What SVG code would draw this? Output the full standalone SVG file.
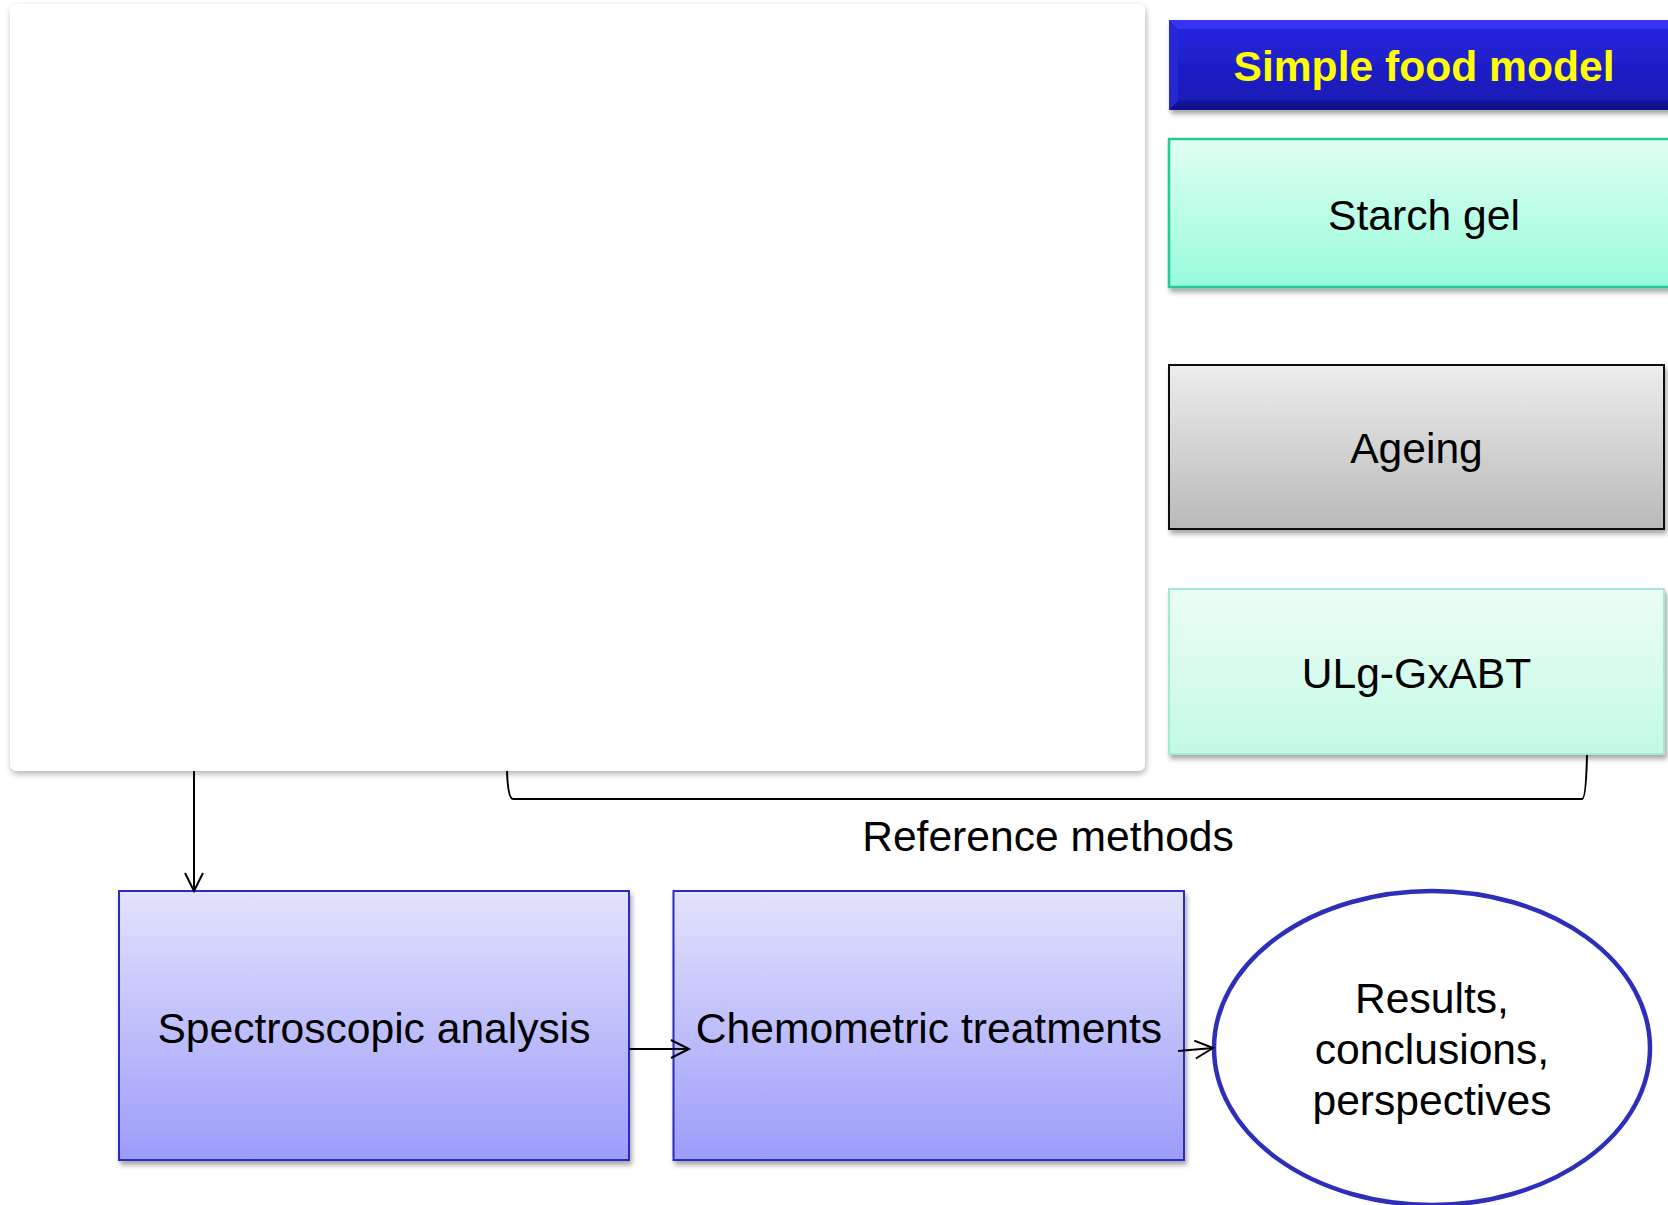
<svg xmlns="http://www.w3.org/2000/svg" width="1668" height="1205" viewBox="0 0 1668 1205">
  <defs>
    <style>
      .lbl { font-family: "Liberation Sans", Arial, sans-serif; font-size: 42.6px; fill: #000; text-anchor: middle; }
      .title { font-family: "Liberation Sans", Arial, sans-serif; font-size: 42.6px; font-weight: bold; fill: #ffff00; text-anchor: middle; }
      .conn { fill: none; stroke: #000; stroke-width: 2; }
      .proc { fill: url(#gProc); stroke: #2b2bc4; stroke-width: 2; filter: url(#shadow); }
    </style>
    <linearGradient id="gHead" x1="0" y1="0" x2="0" y2="1">
      <stop offset="0" stop-color="#2626e2"/>
      <stop offset="1" stop-color="#1818b0"/>
    </linearGradient>
    <linearGradient id="gStarch" x1="0" y1="0" x2="0" y2="1">
      <stop offset="0" stop-color="#e0fff2"/>
      <stop offset="1" stop-color="#98fbdb"/>
    </linearGradient>
    <linearGradient id="gAge" x1="0" y1="0" x2="0" y2="1">
      <stop offset="0" stop-color="#ededed"/>
      <stop offset="1" stop-color="#b9b9b9"/>
    </linearGradient>
    <linearGradient id="gUlg" x1="0" y1="0" x2="0" y2="1">
      <stop offset="0" stop-color="#edfdf6"/>
      <stop offset="1" stop-color="#c2fae4"/>
    </linearGradient>
    <linearGradient id="gProc" x1="0" y1="0" x2="0" y2="1">
      <stop offset="0" stop-color="#e3e3fd"/>
      <stop offset="1" stop-color="#9c9cfa"/>
    </linearGradient>
    <filter id="shadow" x="-5%" y="-5%" width="112%" height="120%">
      <feDropShadow dx="2" dy="4" stdDeviation="2.5" flood-color="#000" flood-opacity="0.35"/>
    </filter>
    <filter id="panelShadow" x="-3%" y="-3%" width="106%" height="108%">
      <feDropShadow dx="1" dy="3" stdDeviation="3" flood-color="#000" flood-opacity="0.3"/>
    </filter>
    <marker id="arrow" markerWidth="24" markerHeight="24" refX="0" refY="0" viewBox="-20 -12 24 24" orient="auto" markerUnits="userSpaceOnUse">
      <path d="M-18,-9 L0,0 L-18,9" fill="none" stroke="#000" stroke-width="2"/>
    </marker>
  </defs>

  <rect width="1668" height="1205" fill="#fff"/>

  <!-- empty content panel -->
  <g id="panel">
    <rect x="10" y="4" width="1135" height="767" rx="7" fill="#fff" filter="url(#panelShadow)"/>
  </g>

  <!-- header banner with bevelled edges -->
  <g id="header">
    <rect x="1169" y="20" width="520" height="90" fill="url(#gHead)" filter="url(#shadow)"/>
    <polygon points="1169,20 1689,20 1680,29 1178,29" fill="#3a3af2" opacity="0.85"/>
    <polygon points="1169,20 1178,29 1178,101 1169,110" fill="#2a2ad8" opacity="0.8"/>
    <polygon points="1169,110 1178,101 1680,101 1689,110" fill="#12128a" opacity="0.8"/>
    <text class="title" x="1424" y="81">Simple food model</text>
  </g>

  <g id="starch-gel">
    <rect x="1169" y="139" width="520" height="148" fill="url(#gStarch)" stroke="#22cc99" stroke-width="2.5" filter="url(#shadow)"/>
    <text class="lbl" x="1424" y="230">Starch gel</text>
  </g>

  <g id="ageing">
    <rect x="1169" y="365" width="495" height="164" fill="url(#gAge)" stroke="#111" stroke-width="2" filter="url(#shadow)"/>
    <text class="lbl" x="1416.5" y="463">Ageing</text>
  </g>

  <g id="ulg-gxabt">
    <rect x="1169" y="589" width="495" height="165" fill="url(#gUlg)" stroke="#a4ead0" stroke-width="2" filter="url(#shadow)"/>
    <text class="lbl" x="1416.5" y="688">ULg-GxABT</text>
  </g>

  <g id="spectroscopic">
    <rect class="proc" x="119" y="891" width="510" height="269"/>
    <text class="lbl" x="374" y="1043">Spectroscopic analysis</text>
  </g>

  <g id="chemometric">
    <rect class="proc" x="673.5" y="891" width="510.5" height="269"/>
    <text class="lbl" x="929" y="1043">Chemometric treatments</text>
  </g>

  <g id="results">
    <ellipse cx="1432" cy="1048" rx="218" ry="157" fill="#fff" stroke="#2e2eb8" stroke-width="4.5"/>
    <text class="lbl" x="1432" y="1013">Results,</text>
    <text class="lbl" x="1432" y="1064">conclusions,</text>
    <text class="lbl" x="1432" y="1115">perspectives</text>
  </g>

  <g id="reference-methods">
    <text class="lbl" x="1048" y="851">Reference methods</text>
  </g>

  <!-- connectors -->
  <g id="connectors">
    <path class="conn" d="M507,771 Q508,799 513,799 L1582,799 Q1586,799 1587,755"/>
    <line class="conn" x1="194" y1="771" x2="194" y2="891" marker-end="url(#arrow)"/>
    <line class="conn" x1="629" y1="1049" x2="689" y2="1049" marker-end="url(#arrow)"/>
    <line class="conn" x1="1178" y1="1051" x2="1213" y2="1048" marker-end="url(#arrow)"/>
  </g>
</svg>
